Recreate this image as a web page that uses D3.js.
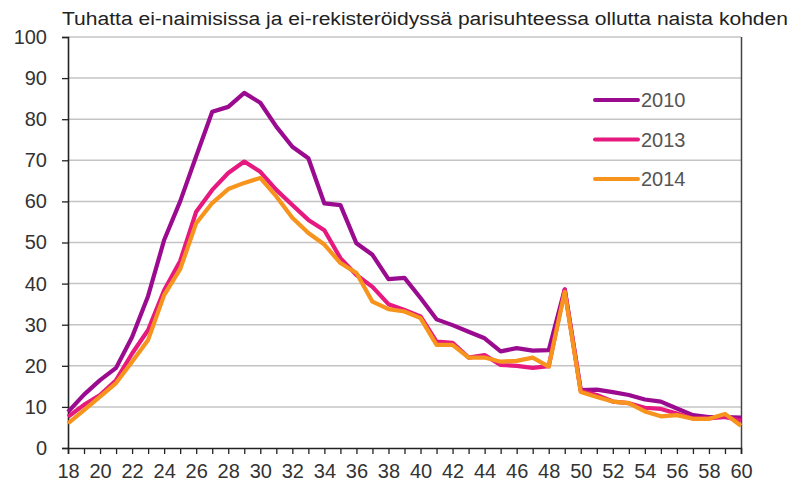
<!DOCTYPE html>
<html>
<head>
<meta charset="utf-8">
<script src="https://cdn.jsdelivr.net/npm/d3@7"></script>
<style>
  body { margin: 0; background: #fff; }
  svg text { font-family: "Liberation Sans", Arial, sans-serif; }
</style>
</head>
<body>
<div id="chart"></div>
<script>
// ages on the x axis
var ages = [18,19,20,21,22,23,24,25,26,27,28,29,30,31,32,33,34,35,36,37,38,39,
            40,41,42,43,44,45,46,47,48,49,50,51,52,53,54,55,56,57,58,59,60];
var xTicks = [18,20,22,24,26,28,30,32,34,36,38,40,42,44,46,48,50,52,54,56,58,60];
var yTicks = [0,10,20,30,40,50,60,70,80,90,100];

var years = ["2010", "2013", "2014"];
var v2010 = [8.8,13,16.5,19.5,27,37,50.6,60,71,81.8,83,86.4,84,78.2,73.3,70.5,59.5,59.1,49.8,47,
             41.1,41.4,36.5,31.3,29.9,28.3,26.7,23.5,24.3,23.7,23.8,38.6,14.1,14.2,13.6,12.9,11.8,11.3,9.6,8,7.5,7.5,7.4];
var v2013 = [7.6,10.5,12.9,16.5,23,28.7,38.4,45.5,57.5,62.8,66.9,69.7,67.2,62.8,59.1,55.5,53,46.2,42.1,39.2,
             35,33.6,32,25.9,25.6,22,22.6,20.2,20,19.5,19.9,38.5,13.9,12.9,11.3,10.9,9.8,9.5,8.4,7.2,7.2,7.6,6.6];
var v2014 = [6,9.2,12.5,15.8,21,26.3,37.2,43.5,54.7,59.6,63,64.5,65.7,61.2,56,52.3,49.5,45,42.6,35.6,
             33.8,33.2,31.6,25.1,25.1,22,22,21,21.2,22,19.8,38,13.6,12.4,11.3,10.9,8.9,7.7,8,7.1,7.1,8.3,5.4];

var title = "Tuhatta ei-naimisissa ja ei-rekisteröidyssä parisuhteessa ollutta naista kohden";

var W = 793, H = 482;
var margin = {top: 37, right: 52, bottom: 34, left: 68};

var svg = d3.select("#chart").append("svg")
  .attr("width", W).attr("height", H);

var x = d3.scaleLinear().domain([18, 60]).range([margin.left, W - margin.right]);
var y = d3.scaleLinear().domain([0, 100]).range([H - margin.bottom, margin.top]);

var color = d3.scaleOrdinal().domain(years).range(["#9b0b8f", "#e6197e", "#f7941d"]);

// gridlines
svg.append("g")
  .selectAll("line")
  .data(yTicks.filter(function(d){ return d > 0; }))
  .enter().append("line")
    .attr("x1", x(18)).attr("x2", x(60))
    .attr("y1", function(d){ return y(d); })
    .attr("y2", function(d){ return y(d); })
    .style("stroke", "#c4c4c4")
    .style("stroke-width", 1.5);

// right border
svg.append("line")
  .attr("x1", x(60) + 0.5).attr("x2", x(60) + 0.5)
  .attr("y1", y(100)).attr("y2", y(0))
  .style("stroke", "#444").style("stroke-width", 1.5);

// y axis
var yAxis = svg.append("g")
  .attr("transform", "translate(" + x(18) + ",0)")
  .call(d3.axisLeft(y).tickValues(yTicks).tickSize(6).tickPadding(15));
// x axis
var xAxis = svg.append("g")
  .attr("transform", "translate(0," + y(0) + ")")
  .call(d3.axisBottom(x).ticks(42).tickSize(6).tickPadding(10)
        .tickFormat(function(d){ return xTicks.indexOf(d) >= 0 ? d : ""; }));

[yAxis, xAxis].forEach(function(a){
  a.select(".domain").style("stroke", "#222").style("stroke-width", 1.6);
  a.selectAll(".tick line").style("stroke", "#222").style("stroke-width", 1.3);
  a.selectAll(".tick text")
    .style("font-size", "20px")
    .style("fill", "#333")
    .style("font-family", "'Liberation Sans Narrow', 'Liberation Sans', Arial, sans-serif")
    .style("font-stretch", "condensed");
});

// lines
var series = [
  {name: "2010", values: v2010},
  {name: "2013", values: v2013},
  {name: "2014", values: v2014}
];

var line = d3.line()
  .x(function(d, i){ return x(ages[i]); })
  .y(function(d){ return y(d); });

svg.append("g")
  .selectAll("path")
  .data(series)
  .enter().append("path")
    .attr("d", function(d){ return line(d.values); })
    .style("fill", "none")
    .style("stroke", function(d){ return color(d.name); })
    .style("stroke-width", 4.2)
    .style("stroke-linejoin", "round");

// legend
var legend = svg.append("g")
  .selectAll("g")
  .data(years)
  .enter().append("g")
    .attr("transform", function(d, i){ return "translate(595," + (100 + i * 39.5) + ")"; });

legend.append("line")
  .attr("x1", 0).attr("x2", 43)
  .style("stroke", function(d){ return color(d); })
  .style("stroke-width", 4)
  .style("stroke-linecap", "round");

legend.append("text")
  .attr("x", 46).attr("y", 7)
  .text(function(d){ return d; })
  .style("font-size", "20px")
  .style("font-family", "'Liberation Sans Narrow', 'Liberation Sans', Arial, sans-serif")
  .style("fill", "#555");

// title
svg.append("text")
  .attr("x", 62).attr("y", 25)
  .attr("textLength", 726)
  .attr("lengthAdjust", "spacingAndGlyphs")
  .text(title)
  .style("font-size", "18px")
  .style("font-family", "'Liberation Sans Narrow', 'Liberation Sans', Arial, sans-serif")
  .style("fill", "#222");
</script>
</body>
</html>
